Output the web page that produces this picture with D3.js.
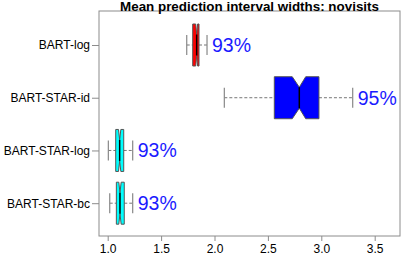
<!DOCTYPE html>
<html>
<head>
<meta charset="utf-8">
<script src="https://cdn.jsdelivr.net/npm/d3@7"></script>
<style>
  body { margin: 0; background: #fff; }
  svg { font-family: "Liberation Sans", Arial, sans-serif; }
</style>
</head>
<body>
<div id="chart"></div>
<script>
const categories = ["BART-log", "BART-STAR-id", "BART-STAR-log", "BART-STAR-bc"];
const whiskerLo = [1.740, 2.092, 1.006, 1.019];
const q1 = [1.796, 2.560, 1.075, 1.081];
const medians = [1.833, 2.794, 1.112, 1.115];
const q3 = [1.855, 2.978, 1.150, 1.155];
const whiskerHi = [1.930, 3.294, 1.234, 1.234];
const notchLo = [1.824, 2.728, 1.101, 1.104];
const notchHi = [1.842, 2.854, 1.123, 1.126];
const coverage = ["93%", "95%", "93%", "93%"];
const fills = ["#FF0000", "#0000FF", "#00FFFF", "#00FFFF"];
const xTicks = [1.0, 1.5, 2.0, 2.5, 3.0, 3.5];

const rows = categories.map((c, i) => ({
    name: c, lo: whiskerLo[i], q1: q1[i], med: medians[i], q3: q3[i],
    hi: whiskerHi[i], nlo: notchLo[i], nhi: notchHi[i],
    label: coverage[i], fill: fills[i]
}));

const width = 407, height = 255;
const frame = { left: 99, right: 400, top: 11, bottom: 236 };
const boxH = 42;

const svg = d3.select("#chart")
    .append("svg")
    .attr("width", width)
    .attr("height", height);

const x = d3.scaleLinear()
    .domain([1, 3.5])
    .range([107.7, 374.7]);

const y = d3.scalePoint()
    .domain(categories)
    .range([45, 203.2]);

// frame
svg.append("rect")
    .attr("x", frame.left)
    .attr("y", frame.top)
    .attr("width", frame.right - frame.left)
    .attr("height", frame.bottom - frame.top)
    .attr("fill", "none")
    .attr("stroke", "#8c8c8c")
    .attr("stroke-width", 1);

// x axis
const xAxis = svg.append("g")
    .attr("transform", "translate(0," + frame.bottom + ")")
    .call(d3.axisBottom(x).tickValues(xTicks).tickFormat(d3.format(".1f")).tickSize(5).tickPadding(3));
xAxis.select(".domain").remove();
xAxis.selectAll("line").attr("stroke", "#8c8c8c");
xAxis.selectAll("text").attr("font-size", 12).attr("fill", "#000")
    .style("font-family", "Liberation Sans, Arial, sans-serif");

// y axis
const yAxis = svg.append("g")
    .attr("transform", "translate(" + frame.left + ",0)")
    .call(d3.axisLeft(y).tickSize(7).tickPadding(2));
yAxis.select(".domain").remove();
yAxis.selectAll("line").attr("stroke", "#8c8c8c");
yAxis.selectAll("text").attr("font-size", 12).attr("fill", "#000")
    .style("font-family", "Liberation Sans, Arial, sans-serif");

// boxes
const g = svg.append("g");
rows.forEach(d => {
    const cy = y(d.name);
    const top = cy - boxH / 2, bot = cy + boxH / 2;
    const inset = boxH / 4;

    // whisker dashed lines
    g.append("line")
        .attr("x1", x(d.lo)).attr("x2", x(d.q1))
        .attr("y1", cy).attr("y2", cy)
        .attr("stroke", "#777").attr("stroke-dasharray", "3,2");
    g.append("line")
        .attr("x1", x(d.q3)).attr("x2", x(d.hi))
        .attr("y1", cy).attr("y2", cy)
        .attr("stroke", "#777").attr("stroke-dasharray", "3,2");
    // staples
    [d.lo, d.hi].forEach(v => {
        g.append("line")
            .attr("x1", x(v)).attr("x2", x(v))
            .attr("y1", cy - 10).attr("y2", cy + 10)
            .attr("stroke", "#888").attr("stroke-width", 1.2);
    });

    // notched box
    const pts = [
        [x(d.q1), top], [x(d.nlo), top], [x(d.med), top + inset], [x(d.nhi), top], [x(d.q3), top],
        [x(d.q3), bot], [x(d.nhi), bot], [x(d.med), bot - inset], [x(d.nlo), bot], [x(d.q1), bot]
    ];
    g.append("polygon")
        .attr("points", pts.map(p => p.join(",")).join(" "))
        .attr("fill", d.fill)
        .attr("stroke", "#555")
        .attr("stroke-width", 1);

    // median
    g.append("line")
        .attr("x1", x(d.med)).attr("x2", x(d.med))
        .attr("y1", top + inset).attr("y2", bot - inset)
        .attr("stroke", "#000").attr("stroke-width", 1.5);

    // coverage label
    g.append("text")
        .attr("x", x(d.hi) + 5)
        .attr("y", cy)
        .attr("dy", "0.35em")
        .attr("font-size", 19.5)
        .attr("fill", "#1a1aff")
        .text(d.label);
});

// title
svg.append("text")
    .attr("x", (frame.left + frame.right) / 2)
    .attr("y", 11)
    .attr("text-anchor", "middle")
    .attr("font-size", 13.4)
    .attr("font-weight", "bold")
    .text("Mean prediction interval widths: novisits");
</script>
</body>
</html>
